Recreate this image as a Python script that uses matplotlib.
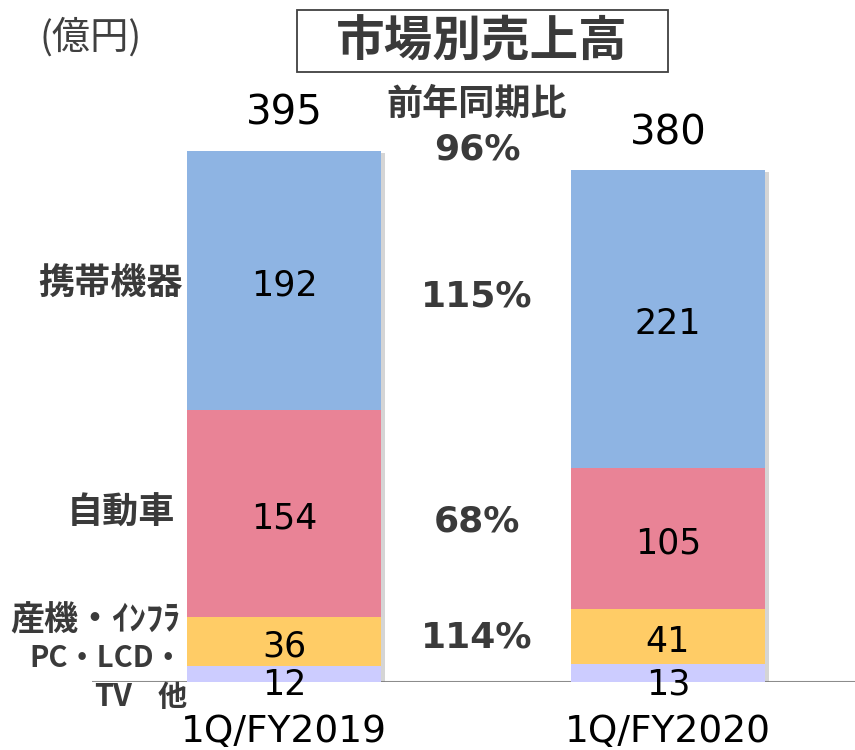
import matplotlib
matplotlib.use("Agg")
import matplotlib.pyplot as plt
import matplotlib.patheffects as pe
from matplotlib.patches import Rectangle
import numpy as np

plt.rcParams['font.family'] = ['Noto Sans CJK JP', 'DejaVu Sans']

categories = ["1Q/FY2019", "1Q/FY2020"]
segments = ["PC・LCD・TV 他", "産機・ｲﾝﾌﾗ", "自動車", "携帯機器"]
other = [12, 13]
industrial = [36, 41]
auto = [154, 105]
mobile = [192, 221]
totals = [395, 380]
yoy_labels = ["96%", "114%", "68%", "115%"]

colors = ["#CCCCFF", "#FFCC66", "#E98396", "#8EB4E3"]
series = [other, industrial, auto, mobile]

W, H = 855, 750
fig = plt.figure(figsize=(W / 100, H / 100), dpi=100)
ax_left = 92 / W
ax_bottom = 68 / H
ax = fig.add_axes([ax_left, ax_bottom, 1 - ax_left, 1 - ax_bottom])
ax.set_xlim(-0.5, 1.487)
ax.set_ylim(0, 506.3)
ax.axis("off")

x = np.arange(len(categories))
width = 0.505

# soft shadow behind stacks
ax.bar(x, [sum(v) for v in zip(*series)], width=width, color="white", zorder=1,
       path_effects=[pe.SimplePatchShadow(offset=(3, -1.5), shadow_rgbFace="#777777", alpha=0.3),
                     pe.Normal()])

bottom = np.zeros(len(categories))
for k, (vals, col) in enumerate(zip(series, colors)):
    vals = np.array(vals, dtype=float)
    ax.bar(x, vals, bottom=bottom, width=width, color=col, zorder=2)
    for i, v in enumerate(vals):
        ypos = -2.0 if k == 0 else bottom[i] + v / 2 - 3.5
        ax.text(x[i], ypos, f"{int(v)}", ha="center", va="center",
                fontsize=25, color="black", family="DejaVu Sans", zorder=3, clip_on=False)
    bottom += vals

ax.axhline(0, color="#8C8C8C", lw=1.5, zorder=0.5)

# totals
for i, t in enumerate(totals):
    ax.text(x[i], t + 27, f"{t}", ha="center", va="center", fontsize=29,
            family="DejaVu Sans", color="black")

# category labels
for i, c in enumerate(categories):
    ax.text(x[i], -37, c, ha="center", va="center", fontsize=27,
            family="DejaVu Sans", color="black", clip_on=False)

# left segment labels
lab_col = "#3A3A3A"
ax.text(-0.263, 295, "携帯機器", ha="right", va="center", fontsize=26, fontweight="bold", color=lab_col, clip_on=False)
ax.text(-0.284, 125, "自動車", ha="right", va="center", fontsize=26, fontweight="bold", color=lab_col, clip_on=False)
ax.text(-0.271, 46, "産機・ｲﾝﾌﾗ", ha="right", va="center", fontsize=24.5, fontweight="bold", color=lab_col, clip_on=False)
ax.text(-0.263, 18, "PC・LCD・", ha="right", va="center", fontsize=21, fontweight="bold", color=lab_col, clip_on=False)
ax.text(-0.253, -11, "他", ha="right", va="center", fontsize=21, fontweight="bold", color=lab_col, clip_on=False)
ax.text(-0.396, -11, "TV", ha="right", va="center", fontsize=22, fontweight="bold", color=lab_col, clip_on=False)

# YoY column
mid = 0.503
ax.text(mid, 429, "前年同期比", ha="center", va="center", fontsize=26, fontweight="bold", color=lab_col)
for val, ypos in zip(yoy_labels, [395, 33, 119, 286]):
    ax.text(mid, ypos, val, ha="center", va="center", fontsize=26, fontweight="bold",
            family="DejaVu Sans", color=lab_col)

# title box & unit
fig.patches.append(Rectangle((297 / W, 1 - 72 / H), 371 / W, 62 / H, transform=fig.transFigure,
                             facecolor="white", edgecolor="#404040", lw=1.3))
fig.text(482 / W, 1 - 42 / H, "市場別売上高", ha="center", va="center", fontsize=35,
         fontweight="bold", color=lab_col)
fig.text(91 / W, 1 - 38 / H, "(億円)", ha="center", va="center", fontsize=27.5, color="#404040")

fig.savefig("out.png", dpi=100)
